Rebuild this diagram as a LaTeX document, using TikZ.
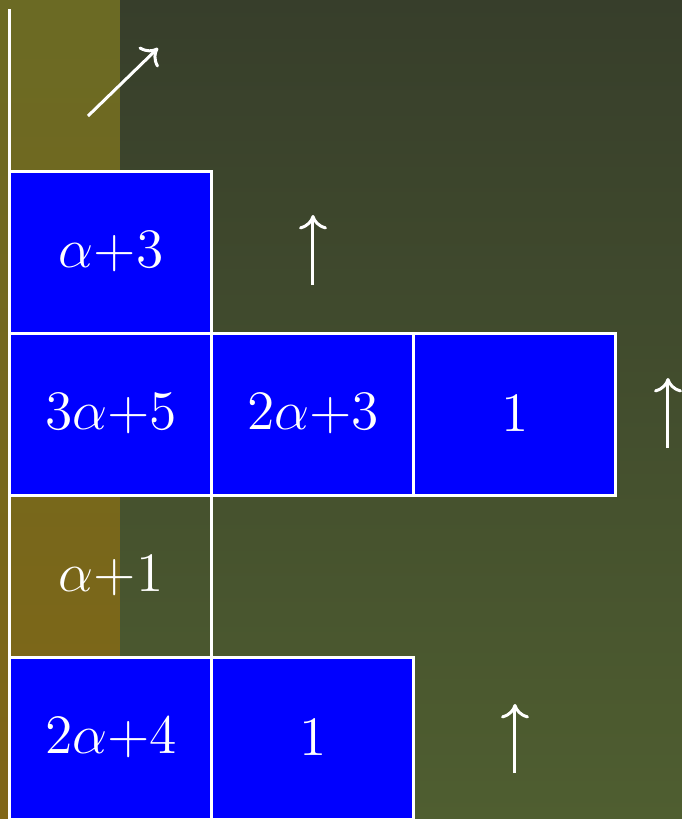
\RequirePackage{fix-cm}
\documentclass[tikz,border=0pt]{standalone}
\usepackage{amsmath}
\usepackage{xcolor}
\usetikzlibrary{arrows.meta}
\definecolor{bgtop}{HTML}{373E2B}
\definecolor{bgbottom}{HTML}{4F5E30}
\definecolor{coltop}{HTML}{6B6A24}
\definecolor{colbottom}{HTML}{806616}
\definecolor{cellblue}{HTML}{0000FF}

\begin{document}
\begin{tikzpicture}[x=0.25pt,y=0.25pt,
    cellbox/.style={draw=white,line width=0.75pt,minimum width=50.5pt,minimum height=40.5pt,inner sep=0pt,outer sep=0pt,text=white,font=\fontsize{13.9}{16}\selectfont},
    filledbox/.style={cellbox,fill=cellblue},
    hint/.style={white,line width=0.75pt,-{To[length=3.6pt,width=7pt]}}]
    \useasboundingbox (0,0) rectangle (682,819);
    \shade[top color=bgtop,bottom color=bgbottom] (0,0) rectangle (682,819);
    \shade[top color=coltop,bottom color=colbottom] (0,0) rectangle (120,819);
    \draw[white,line width=0.75pt] (10,810) -- (10,-5);
    % rows of the diagram
    \node[filledbox] (a1) at (111,567) {$\alpha{+}3$};
    \node[filledbox] (b1) at (111,405) {$3\alpha{+}5$};
    \node[filledbox] (b2) at (313,405) {$2\alpha{+}3$};
    \node[filledbox] (b3) at (515,405) {$1$};
    \node[cellbox] (c1) at (111,243) {$\alpha{+}1$};
    \node[filledbox] (d1) at (111,81) {$2\alpha{+}4$};
    \node[filledbox] (d2) at (313,81) {$1$};
    % arrows
    \draw[hint] (88,703) -- (158,771);
    \draw[hint] (313,534) -- (313,604);
    \draw[hint] (668,371) -- (668,441);
    \draw[hint] (515,46) -- (515,115);
\end{tikzpicture}
\end{document}
